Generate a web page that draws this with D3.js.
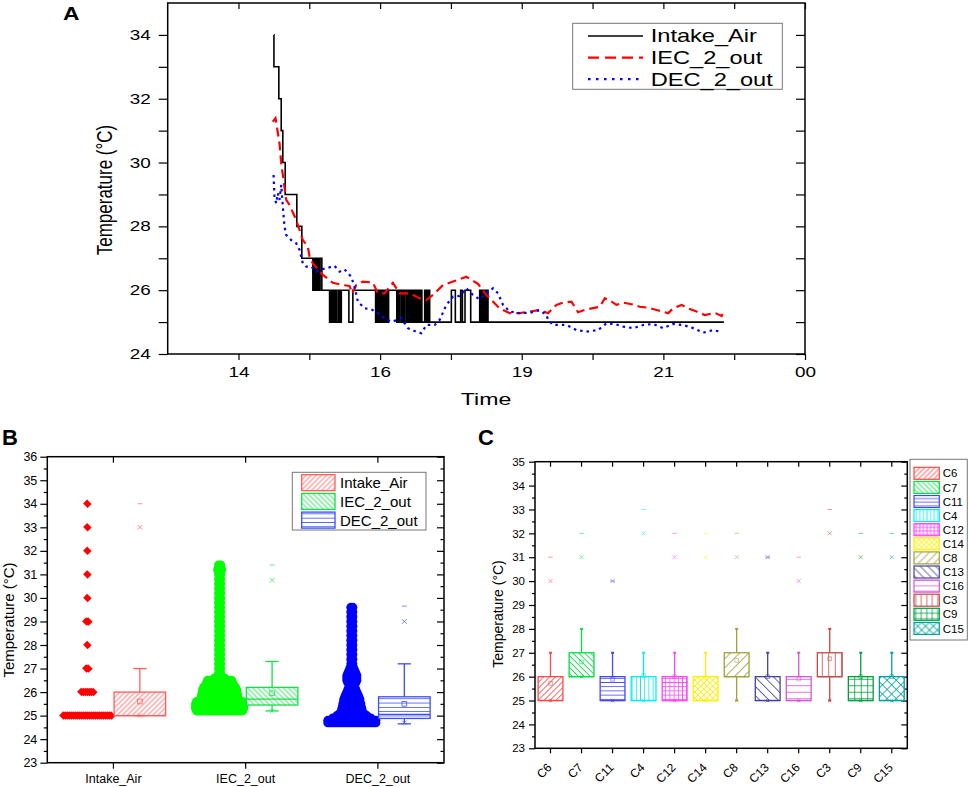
<!DOCTYPE html>
<html>
<head>
<meta charset="utf-8">
<script src="https://cdn.jsdelivr.net/npm/d3@7"></script>
<style>
  body { margin: 0; background: #fff; }
  text { font-family: "Liberation Sans", Arial, sans-serif; }
</style>
</head>
<body>
<svg id="fig" width="969" height="787"></svg>
<script>
// ---------- data ----------
const seriesNames = ["Intake_Air", "IEC_2_out", "DEC_2_out"]

// panel A: time axis in hours, labels as printed
const timeTicks = [14.044, 16.533, 19.022, 21.511, 24.0]
const timeTickLabels = ["14", "16", "19", "21", "00"]

// [hour, °C] change points of the stepped intake series
const intakeSteps = [
  [14.665, 34], [14.667, 33], [14.753, 32], [14.795, 31], [14.823, 30], [14.865, 29], [15.069, 28], [15.157, 27],
  [15.351, 26], [15.372, 27], [15.390, 26], [15.407, 27], [15.425, 26], [15.442, 27], [15.460, 26], [15.478, 27], [15.509, 26],
  [15.645, 25], [15.666, 26], [15.687, 25], [15.708, 26], [15.729, 25], [15.757, 26], [15.775, 25], [15.806, 26], [15.827, 25], [15.851, 26],
  [15.984, 25], [16.054, 26],
  [16.454, 25], [16.475, 26], [16.496, 25], [16.517, 26], [16.538, 25], [16.559, 26], [16.580, 25], [16.601, 26], [16.623, 25], [16.644, 26], [16.665, 25], [16.682, 26],
  [16.826, 25], [16.847, 26], [16.864, 25], [16.876, 26],
  [16.906, 25], [16.929, 26], [16.946, 25], [16.964, 26],
  [16.994, 25], [17.017, 26], [17.034, 25], [17.052, 26],
  [17.064, 25], [17.087, 26], [17.105, 25], [17.128, 26], [17.149, 25], [17.166, 26], [17.187, 25], [17.207, 26], [17.228, 25], [17.245, 26], [17.267, 25],
  [17.316, 26], [17.339, 25], [17.360, 26], [17.381, 25], [17.395, 26], [17.404, 25],
  [17.785, 26], [17.855, 25], [17.949, 26], [17.979, 25], [18.025, 26], [18.125, 25],
  [18.283, 26], [18.301, 25], [18.322, 26], [18.345, 25], [18.366, 26], [18.389, 25], [18.410, 26], [18.429, 25],
  [22.575, 25]
]

const iecSeries = [
  [14.647, 31.28], [14.695, 31.39], [14.765, 30.6], [14.795, 29.98], [14.883, 28.83], [14.941, 28.67], [15.059, 28.2],
  [15.175, 27.57], [15.263, 27.36], [15.293, 27.05], [15.351, 26.84], [15.527, 26.48], [15.703, 26.23], [15.879, 26.16],
  [15.996, 26.13], [16.044, 25.9], [16.114, 26.16], [16.230, 26.27], [16.406, 26.24], [16.494, 25.9], [16.612, 25.9],
  [16.758, 26.23], [16.876, 25.9], [17.052, 25.9], [17.228, 25.75], [17.346, 25.69], [17.462, 25.85], [17.638, 26.16],
  [17.814, 26.27], [18.049, 26.42], [18.253, 26.2], [18.401, 25.85], [18.635, 25.43], [18.811, 25.28], [18.987, 25.28],
  [19.163, 25.33], [19.339, 25.38], [19.485, 25.28], [19.632, 25.54], [19.749, 25.61], [19.896, 25.64], [20.012, 25.31],
  [20.160, 25.40], [20.394, 25.48], [20.482, 25.75], [20.600, 25.64], [20.688, 25.54], [20.804, 25.61], [20.952, 25.56],
  [21.098, 25.48], [21.244, 25.45], [21.391, 25.38], [21.595, 25.28], [21.683, 25.43], [21.831, 25.54], [21.947, 25.43],
  [22.095, 25.33], [22.241, 25.22], [22.417, 25.29], [22.535, 25.19], [22.575, 25.33]
]

const decSeries = [
  [14.660, 29.61], [14.677, 28.93], [14.707, 28.72], [14.735, 29.04], [14.765, 28.83], [14.795, 29.3], [14.823, 28.62],
  [14.853, 27.99], [14.883, 27.73], [14.971, 27.57], [15.059, 27.47], [15.117, 27.26], [15.175, 26.84], [15.235, 26.74],
  [15.323, 26.74], [15.411, 26.58], [15.499, 26.65], [15.587, 26.69], [15.733, 26.76], [15.821, 26.58], [15.909, 26.65],
  [16.026, 26.42], [16.084, 26.1], [16.142, 25.64], [16.260, 25.43], [16.378, 25.4], [16.494, 25.28], [16.612, 25.12],
  [16.730, 25.01], [16.846, 25.07], [16.906, 25.12], [17.022, 24.81], [17.170, 24.7], [17.258, 24.65], [17.346, 24.91],
  [17.492, 24.91], [17.580, 25.07], [17.697, 25.54], [17.814, 25.8], [17.931, 25.82], [18.049, 26.06], [18.165, 25.85],
  [18.283, 25.71], [18.429, 25.95], [18.517, 26.06], [18.605, 25.9], [18.693, 25.54], [18.811, 25.33], [18.987, 25.28],
  [19.163, 25.29], [19.339, 25.38], [19.456, 25.22], [19.485, 25.07], [19.573, 24.91], [19.808, 24.91], [19.984, 24.75],
  [20.160, 24.7], [20.364, 24.75], [20.512, 24.96], [20.658, 24.94], [20.804, 24.86], [20.980, 24.81], [21.156, 24.91],
  [21.332, 24.94], [21.507, 24.81], [21.683, 24.94], [21.859, 24.91], [22.035, 24.81], [22.211, 24.67], [22.387, 24.75],
  [22.505, 24.7]
]

// panel B: raw readings drawn as rows, [°C, markers in the row]
const intakeSwarm = [[25, 25], [26, 7], [27, 2], [28, 1], [29, 2], [30, 1], [31, 1], [32, 1], [33, 1], [34, 1]]
const iecSwarm = [
  [25.2, 24], [25.3, 25], [25.4, 25], [25.5, 25], [25.6, 24], [25.7, 20], [25.8, 19], [25.9, 19], [26.0, 18],
  [26.1, 18], [26.2, 17], [26.3, 15], [26.4, 14], [26.5, 13], [26.6, 6], [26.7, 2],
  [26.8, 2], [27.0, 2], [27.2, 2], [27.4, 2], [27.6, 2], [27.8, 2], [28.0, 2], [28.2, 2], [28.4, 2], [28.6, 2],
  [28.8, 2], [29.0, 2], [29.2, 2], [29.4, 2], [29.6, 2], [29.8, 2], [30.0, 2], [30.2, 2], [30.4, 2], [30.6, 2],
  [30.8, 2], [31.0, 2], [31.2, 3], [31.4, 2]
]
const decSwarm = [
  [24.7, 25], [24.8, 25], [24.9, 20], [25.0, 16], [25.1, 13], [25.2, 11], [25.3, 11], [25.4, 10], [25.5, 10],
  [25.6, 9], [25.7, 9], [25.8, 8], [25.9, 7], [26.0, 6], [26.1, 5], [26.2, 4], [26.3, 3], [26.4, 5], [26.5, 6],
  [26.6, 6], [26.7, 6], [26.8, 5], [26.9, 4], [27.0, 3],
  [27.2, 2], [27.4, 2], [27.6, 2], [27.8, 2], [28.0, 2], [28.2, 2], [28.4, 2], [28.6, 2], [28.8, 2], [29.0, 2],
  [29.2, 2], [29.4, 2], [29.6, 2]
]

// panel B box statistics, one entry per series
const bQ1 = [25, 25.45, 24.88]
const bMedian = [25, 25.7, 25.05]
const bQ3 = [26, 26.2, 25.8]
const bWhiskLo = [25, 25.2, 24.65]
const bWhiskHi = [27, 27.3, 27.2]
const bMean = [25.6, 25.95, 25.5]
const bP1 = [25, 25.2, 24.7]
const bP99 = [33, 30.75, 29]
const bMax = [34, 31.4, 29.65]

// panel C box statistics
const cCats = ["C6", "C7", "C11", "C4", "C12", "C14", "C8", "C13", "C16", "C3", "C9", "C15"]
const cQ1 = [25, 26, 25, 25, 25, 25, 26, 25, 25, 26, 25, 25]
const cQ3 = [26, 27, 26, 26, 26, 26, 27, 26, 26, 27, 26, 26]
const cMedian = [25, 26, 25, 25, 25, 25, 26, 25, 25, 26, 25, 25]
const cWhiskLo = [25, 26, 25, 25, 25, 25, 25, 25, 25, 25, 25, 25]
const cWhiskHi = [27, 28, 27, 27, 27, 27, 28, 27, 27, 28, 27, 27]
const cMean = [25.72, 26.62, 25.89, 26.05, 26.0, 25.95, 26.68, 26.0, 25.9, 26.75, 26.0, 26.0]
const cP99 = [30, 31, 30, 32, 31, 31, 31, 31, 30, 32, 31, 31]
const cMax = [31, 32, 30, 33, 32, 32, 32, 31, 31, 33, 32, 32]

// ---------- styling ----------
const lineColors = ["#000000", "#ff0000", "#0000ff"]
const lineDash = [null, "9,5", "2.5,4"]
const swarmColors = ["#ff0000", "#00ff00", "#0000ff"]
const bBoxColors = ["#ff5c5c", "#12e045", "#3b4dff"]
const bHatch = ["diag", "back", "horiz"]
const cColors = ["#ff4848", "#00e040", "#4444ff", "#00eeee", "#ff44ff", "#ffee00",
                 "#a0a040", "#44449c", "#d455d4", "#c24a4a", "#00a040", "#00a0a0"]
const cHatch = ["diag", "back", "horiz", "vert", "grid", "cross", "diag", "back", "horiz", "vert", "grid", "cross"]

const SX = 1.35   // panel A text is printed horizontally stretched

const svg = d3.select("#fig")
const defs = svg.append("defs")

function hatch(id, kind, color, spacing) {
    const angle = { diag: 45, back: -45, cross: 45 }[kind] || 0
    const p = defs.append("pattern")
        .attr("id", id)
        .attr("patternUnits", "userSpaceOnUse")
        .attr("width", spacing)
        .attr("height", spacing)
        .attr("patternTransform", `rotate(${angle})`)
    p.append("rect").attr("width", spacing).attr("height", spacing).attr("fill", "#fff")
    const h = spacing / 2
    let d = ""
    if (kind !== "horiz") d += `M${h},0V${spacing}`
    if (kind === "horiz" || kind === "grid" || kind === "cross") d += `M0,${h}H${spacing}`
    p.append("path").attr("d", d).attr("stroke", color).attr("stroke-width", 0.8).attr("fill", "none")
    return `url(#${id})`
}

function plainAxis(g, size) {
    g.select(".domain").remove()
    g.selectAll(".tick line").attr("stroke", "#000").attr("stroke-width", 1.2)
    g.attr("font-family", null).attr("font-size", size)
    g.selectAll("text").attr("fill", "#000")
}

function frame(g, x, y) {
    g.append("rect")
        .attr("x", x.range()[0]).attr("y", y.range()[1])
        .attr("width", x.range()[1] - x.range()[0])
        .attr("height", y.range()[0] - y.range()[1])
        .attr("fill", "none").attr("stroke", "#000").attr("stroke-width", 1.5)
}

const markX = { draw(p, size) { const r = Math.sqrt(size) / 2; p.moveTo(-r, -r); p.lineTo(r, r); p.moveTo(r, -r); p.lineTo(-r, r) } }
const markDash = { draw(p, size) { const r = Math.sqrt(size) / 2; p.moveTo(-r, 0); p.lineTo(r, 0) } }

// ---------- panel A ----------
const gA = svg.append("g")
const xA = d3.scaleLinear().domain([12.8, 24]).range([167.7, 805])
const yA = d3.scaleLinear().domain([24, 35]).range([354, 3])
const aMinor = d3.pairs(timeTicks, (a, b) => (a + b) / 2)
const aTicks = [...timeTicks, ...aMinor]
const yAticks = d3.range(24, 35)

const stretch = (g, sx) => g.selectAll("text").each(function () {
    const t = d3.select(this)
    t.attr("x", (+t.attr("x") || 0) / sx).attr("transform", `scale(${sx},1)`)
})

gA.append("g").attr("transform", `translate(${xA.range()[0]},0)`)
    .call(d3.axisLeft(yA).tickValues(yAticks).tickSize(9).tickPadding(8).tickFormat(d => d % 2 === 0 ? d : ""))
    .call(g => plainAxis(g, 14)).call(g => stretch(g, SX))
gA.append("g").attr("transform", `translate(${xA.range()[1]},0)`)
    .call(d3.axisLeft(yA).tickValues(yAticks).tickSize(9).tickFormat(""))
    .call(g => plainAxis(g, 14))
gA.append("g").attr("transform", `translate(0,${yA.range()[0]})`)
    .call(d3.axisBottom(xA).tickValues(aTicks).tickSize(6).tickPadding(7)
        .tickFormat(d => { const i = timeTicks.indexOf(d); return i >= 0 ? timeTickLabels[i] : "" }))
    .call(g => plainAxis(g, 14)).call(g => stretch(g, SX))
gA.append("g").attr("transform", `translate(0,${yA.range()[1]})`)
    .call(d3.axisBottom(xA).tickValues(aTicks).tickSize(6).tickFormat(""))
    .call(g => plainAxis(g, 14))
frame(gA, xA, yA)

const lineA = d3.line().x(d => xA(d[0])).y(d => yA(d[1]))
;[intakeSteps, iecSeries, decSeries].forEach((data, i) => {
    gA.append("path")
        .datum(data)
        .attr("fill", "none")
        .attr("stroke", lineColors[i])
        .attr("stroke-width", i === 0 ? 1.6 : 2.2)
        .attr("stroke-dasharray", lineDash[i])
        .attr("d", i === 0 ? lineA.curve(d3.curveStepAfter)(data) : d3.line().x(d => xA(d[0])).y(d => yA(d[1]))(data))
})

gA.append("text")
    .attr("transform", `translate(486,405) scale(1.4,1)`)
    .attr("text-anchor", "middle").attr("font-size", 16.5)
    .text("Time")
gA.append("text")
    .attr("transform", `translate(104,190) scale(${SX},1) rotate(-90)`)
    .attr("text-anchor", "middle").attr("dominant-baseline", "central").attr("font-size", 17)
    .text("Temperature (°C)")
gA.append("text")
    .attr("transform", `translate(63,20) scale(1.2,1)`)
    .attr("font-size", 19).attr("font-weight", "bold")
    .text("A")

const legA = gA.append("g")
legA.append("rect").attr("x", 572.7).attr("y", 23.3).attr("width", 209.6).attr("height", 66)
    .attr("fill", "#fff").attr("stroke", "#777").attr("stroke-width", 1)
seriesNames.forEach((name, i) => {
    const y = 36 + i * 21.6
    legA.append("line").attr("x1", 588).attr("x2", 643).attr("y1", y).attr("y2", y)
        .attr("stroke", lineColors[i]).attr("stroke-width", i === 0 ? 1.6 : 2.2)
        .attr("stroke-dasharray", i === 1 ? "11,6" : i === 2 ? "2.5,5.5" : null)
    legA.append("text")
        .attr("transform", `translate(650.7,${y}) scale(${SX},1)`)
        .attr("dy", "0.36em").attr("font-size", 17.5)
        .text(name)
})

// ---------- panel B ----------
const gB = svg.append("g")
const xB = d3.scaleBand().domain(seriesNames).range([47.3, 444])
const yB = d3.scaleLinear().domain([23, 36]).range([762.7, 456.7])
const swarmOffset = -0.197, boxOffset = 0.2, boxWidthB = 0.39, swarmStep = 2

gB.append("g").attr("transform", `translate(${xB.range()[0]},0)`)
    .call(d3.axisLeft(yB).tickValues(d3.range(23, 37)).tickSize(7).tickPadding(3))
    .call(g => plainAxis(g, 12.5))
gB.append("g").attr("transform", `translate(${xB.range()[0]},0)`)
    .call(d3.axisLeft(yB).tickValues(d3.range(23.5, 36, 1)).tickSize(3.5).tickFormat(""))
    .call(g => plainAxis(g, 12.5))
gB.append("g").attr("transform", `translate(${xB.range()[1]},0)`)
    .call(d3.axisLeft(yB).tickValues(d3.range(23, 37)).tickSize(7).tickFormat(""))
    .call(g => plainAxis(g, 12.5))
gB.append("g").attr("transform", `translate(${xB.range()[1]},0)`)
    .call(d3.axisLeft(yB).tickValues(d3.range(23.5, 36, 1)).tickSize(3.5).tickFormat(""))
    .call(g => plainAxis(g, 12.5))
gB.append("g").attr("transform", `translate(0,${yB.range()[0]})`)
    .call(d3.axisBottom(xB).tickSize(6).tickPadding(5))
    .call(g => plainAxis(g, 12.5))
gB.append("g").attr("transform", `translate(0,${yB.range()[1]})`)
    .call(d3.axisBottom(xB).tickSize(6).tickFormat(""))
    .call(g => plainAxis(g, 12.5))

const diamond = d3.symbol(d3.symbolSquare, 40)
const dot = d3.symbol(d3.symbolCircle, 64)
;[intakeSwarm, iecSwarm, decSwarm].forEach((rows, i) => {
    const cx = xB(seriesNames[i]) + xB.bandwidth() * (0.5 + swarmOffset)
    const pts = rows.flatMap(([v, n]) => d3.range(n).map(k => ({ v, dx: (k - (n - 1) / 2) * swarmStep })))
    gB.append("g").selectAll("path").data(pts).join("path")
        .attr("d", i === 0 ? diamond() : dot())
        .attr("transform", d => `translate(${cx + d.dx},${yB(d.v)})` + (i === 0 ? " rotate(45) scale(1,0.9)" : ""))
        .attr("fill", swarmColors[i])
})

seriesNames.forEach((name, i) => {
    const c = bBoxColors[i]
    const cx = xB(name) + xB.bandwidth() * (0.5 + boxOffset)
    const w = xB.bandwidth() * boxWidthB
    const cap = xB.bandwidth() * 0.1
    const g = gB.append("g").attr("stroke", c).attr("fill", "none").attr("stroke-width", 1.3)
    g.append("line").attr("x1", cx).attr("x2", cx).attr("y1", yB(bQ3[i])).attr("y2", yB(bWhiskHi[i]))
    g.append("line").attr("x1", cx).attr("x2", cx).attr("y1", yB(bQ1[i])).attr("y2", yB(bWhiskLo[i]))
    g.append("line").attr("x1", cx - cap / 2).attr("x2", cx + cap / 2).attr("y1", yB(bWhiskHi[i])).attr("y2", yB(bWhiskHi[i]))
    g.append("line").attr("x1", cx - cap / 2).attr("x2", cx + cap / 2).attr("y1", yB(bWhiskLo[i])).attr("y2", yB(bWhiskLo[i]))
    g.append("rect").attr("x", cx - w / 2).attr("width", w)
        .attr("y", yB(bQ3[i])).attr("height", yB(bQ1[i]) - yB(bQ3[i]))
        .attr("fill", hatch(`hb${i}`, bHatch[i], c, i === 2 ? 4.3 : 3.6))
    g.append("line").attr("x1", cx - w / 2).attr("x2", cx + w / 2).attr("y1", yB(bMedian[i])).attr("y2", yB(bMedian[i]))
    g.append("path").attr("d", d3.symbol(d3.symbolSquare, 22)()).attr("stroke-width", 0.8)
        .attr("transform", `translate(${cx},${yB(bMean[i])})`)
    const m = g.append("g").attr("stroke-width", 0.9).attr("opacity", 0.75)
    m.append("path").attr("d", d3.symbol(markX, 22)()).attr("transform", `translate(${cx},${yB(bP99[i])})`)
    m.append("path").attr("d", d3.symbol(markX, 16)()).attr("transform", `translate(${cx},${yB(bP1[i])})`)
    m.append("path").attr("d", d3.symbol(markDash, 22)()).attr("transform", `translate(${cx},${yB(bMax[i])})`)
})
frame(gB, xB, yB)

gB.append("text")
    .attr("transform", `translate(8.5,620) rotate(-90)`)
    .attr("text-anchor", "middle").attr("dominant-baseline", "central").attr("font-size", 15)
    .text("Temperature (°C)")
gB.append("text").attr("x", 2).attr("y", 445)
    .attr("font-size", 22).attr("font-weight", "bold").text("B")

const legB = gB.append("g")
legB.append("rect").attr("x", 292.3).attr("y", 472.3).attr("width", 133.7).attr("height", 57.7)
    .attr("fill", "#fff").attr("stroke", "#777")
seriesNames.forEach((name, i) => {
    const y = 482.7 + i * 18.7
    legB.append("rect").attr("x", 301.7).attr("y", y - 8).attr("width", 33.3).attr("height", 16)
        .attr("fill", hatch(`lb${i}`, bHatch[i], bBoxColors[i], i === 2 ? 4.3 : 3.6))
        .attr("stroke", bBoxColors[i]).attr("stroke-width", 1.3)
    legB.append("text").attr("x", 340).attr("y", y).attr("dy", "0.36em").attr("font-size", 15).text(name)
})

// ---------- panel C ----------
const gC = svg.append("g")
const xC = d3.scaleBand().domain(cCats).range([535, 907.3])
const yC = d3.scaleLinear().domain([23, 35]).range([748.3, 461.7])
const boxWidthC = 0.8

gC.append("g").attr("transform", `translate(${xC.range()[0]},0)`)
    .call(d3.axisLeft(yC).tickValues(d3.range(23, 36)).tickSize(6).tickPadding(4))
    .call(g => plainAxis(g, 11.5))
gC.append("g").attr("transform", `translate(${xC.range()[0]},0)`)
    .call(d3.axisLeft(yC).tickValues(d3.range(23.5, 35, 1)).tickSize(3).tickFormat(""))
    .call(g => plainAxis(g, 11.5))
gC.append("g").attr("transform", `translate(${xC.range()[1]},0)`)
    .call(d3.axisLeft(yC).tickValues(d3.range(23, 36)).tickSize(6).tickFormat(""))
    .call(g => plainAxis(g, 11.5))
gC.append("g").attr("transform", `translate(${xC.range()[1]},0)`)
    .call(d3.axisLeft(yC).tickValues(d3.range(23.5, 35, 1)).tickSize(3).tickFormat(""))
    .call(g => plainAxis(g, 11.5))
gC.append("g").attr("transform", `translate(0,${yC.range()[0]})`)
    .call(d3.axisBottom(xC).tickSize(5))
    .call(g => plainAxis(g, 12))
    .call(g => g.selectAll("text")
        .attr("x", 0).attr("y", 0).attr("dy", "0.35em")
        .attr("text-anchor", "end")
        .attr("transform", "translate(-1,17) rotate(-45)"))
gC.append("g").attr("transform", `translate(0,${yC.range()[1]})`)
    .call(d3.axisBottom(xC).tickSize(5).tickFormat(""))
    .call(g => plainAxis(g, 12))

cCats.forEach((name, i) => {
    const c = cColors[i]
    const cx = xC(name) + xC.bandwidth() / 2
    const w = xC.bandwidth() * boxWidthC
    const g = gC.append("g").attr("stroke", c).attr("fill", "none").attr("stroke-width", 1.3)
    g.append("line").attr("x1", cx).attr("x2", cx).attr("y1", yC(cQ3[i])).attr("y2", yC(cWhiskHi[i]))
    g.append("line").attr("x1", cx).attr("x2", cx).attr("y1", yC(cQ1[i])).attr("y2", yC(cWhiskLo[i]))
    ;[cWhiskHi[i], cWhiskLo[i]].forEach(v =>
        g.append("line").attr("x1", cx - 1.5).attr("x2", cx + 1.5).attr("y1", yC(v)).attr("y2", yC(v)).attr("stroke-width", 2))
    g.append("rect").attr("x", cx - w / 2).attr("width", w)
        .attr("y", yC(cQ3[i])).attr("height", yC(cQ1[i]) - yC(cQ3[i]))
        .attr("fill", hatch(`hc${i}`, cHatch[i], c, i < 6 ? 4.2 : 6.5))
    g.append("line").attr("x1", cx - w / 2).attr("x2", cx + w / 2).attr("y1", yC(cMedian[i])).attr("y2", yC(cMedian[i]))
    const m = g.append("g").attr("stroke-width", 0.9).attr("opacity", 0.6)
    m.append("path").attr("d", d3.symbol(d3.symbolSquare, 14)()).attr("transform", `translate(${cx},${yC(cMean[i])})`)
    m.append("path").attr("d", d3.symbol(markX, 16)()).attr("transform", `translate(${cx},${yC(cP99[i])})`)
    m.append("path").attr("d", d3.symbol(markX, 12)()).attr("transform", `translate(${cx},${yC(cWhiskLo[i])})`)
    m.append("path").attr("d", d3.symbol(markDash, 20)()).attr("transform", `translate(${cx},${yC(cMax[i])})`)
})
frame(gC, xC, yC)

gC.append("text")
    .attr("transform", `translate(498.3,614) rotate(-90)`)
    .attr("text-anchor", "middle").attr("dominant-baseline", "central").attr("font-size", 14)
    .text("Temperature (°C)")
gC.append("text").attr("x", 478).attr("y", 445)
    .attr("font-size", 22).attr("font-weight", "bold").text("C")

const legC = gC.append("g")
legC.append("rect").attr("x", 910).attr("y", 459.3).attr("width", 57.3).attr("height", 180.7)
    .attr("fill", "#fff").attr("stroke", "#777")
cCats.forEach((name, i) => {
    const y = 473.3 + i * 14.1
    legC.append("rect").attr("x", 914).attr("y", y - 6).attr("width", 25.3).attr("height", 12)
        .attr("fill", hatch(`lc${i}`, cHatch[i], cColors[i], i < 6 ? 3.6 : 5.5))
        .attr("stroke", cColors[i]).attr("stroke-width", 1.2)
    legC.append("text").attr("x", 942.7).attr("y", y).attr("dy", "0.36em").attr("font-size", 11.5).text(name)
})
</script>
</body>
</html>
